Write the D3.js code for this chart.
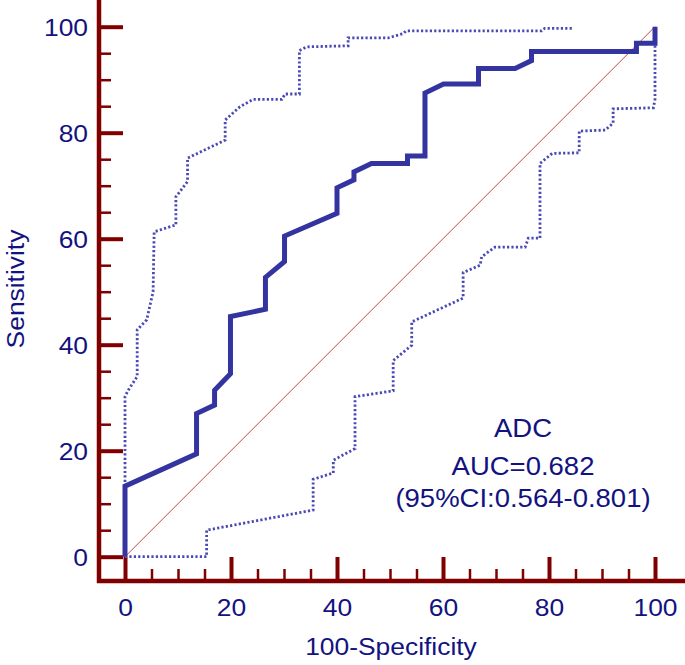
<!DOCTYPE html>
<html lang="en">
<head>
    <meta charset="UTF-8">
    <title>ROC curve: ADC</title>
    <script src="https://d3js.org/d3.v7.min.js"></script>
    <style>
        body { margin: 0; background: #fff; }
        svg text {
            font-family: "Liberation Sans", Arial, sans-serif;
            fill: #121280;
        }
        .axis .domain { display: none; }
        .axis line { stroke: #800000; }
    </style>
</head>
<body>
    <svg width="685" height="665"></svg>

    <script>
        // ROC curve (100-Specificity, Sensitivity)
        const rocX = [0, 0, 13.5, 13.5, 16.9, 16.9, 19.9, 19.9, 26.5, 26.5, 30.1, 30.1, 40.0, 40.0, 43.2, 43.2,
                      46.5, 53.3, 53.3, 56.6, 56.6, 60.1, 66.7, 66.7, 73.6, 76.7, 76.7, 96.5, 96.5, 100, 100];
        const rocY = [0, 13.3, 19.4, 27.0, 28.6, 31.4, 34.5, 45.3, 46.7, 52.7, 55.7, 60.5, 64.8, 69.6, 71.1, 72.6,
                      74.2, 74.2, 75.6, 75.6, 87.5, 89.2, 89.2, 92.1, 92.1, 93.6, 95.3, 95.3, 96.9, 96.9, 100];

        // upper 95% confidence bound
        const upperX = [0, 0, 0.6, 2.3, 2.3, 4.1, 5.3, 5.5, 9.6, 9.6, 11.8, 11.8, 18.9, 18.9, 21.7, 24.2,
                        29.6, 30.2, 32.9, 32.9, 34.3, 42.1, 42.1, 49.7, 52.5, 53.0, 78.6, 79.2, 84.6];
        const upperY = [0, 30.2, 31.4, 34.0, 42.8, 44.7, 50.0, 61.3, 62.6, 67.9, 70.8, 75.2, 78.6, 82.4, 84.9, 86.3,
                        86.3, 87.3, 87.3, 95.5, 96.2, 96.4, 97.9, 97.9, 98.7, 99.2, 99.2, 99.7, 99.7];

        // lower 95% confidence bound
        const lowerX = [0, 15.4, 15.4, 35.5, 35.5, 39.3, 39.3, 43.4, 43.4, 50.6, 50.6, 54.1, 54.1, 63.8, 63.8,
                        67.0, 67.3, 69.8, 75.5, 76.1, 78.3, 78.3, 80.6, 85.7, 85.7, 90.6, 92.1, 92.1, 99.7, 100, 100];
        const lowerY = [0, 0, 5.0, 8.8, 14.6, 15.8, 18.2, 20.4, 30.2, 31.3, 37.0, 39.9, 44.3, 48.8, 53.6,
                        55.0, 56.6, 58.4, 58.4, 60.1, 60.1, 74.2, 76.1, 76.2, 80.3, 80.5, 81.8, 84.5, 84.7, 86.3, 100];

        const majorTicks = [0, 20, 40, 60, 80, 100];
        const minorTicks = d3.range(0, 101, 5).filter(v => v % 20 !== 0);

        const annotation = ["ADC", "AUC=0.682", "(95%CI:0.564-0.801)"];

        const svg = d3.select("svg");

        const x = d3.scaleLinear().domain([0, 100]).range([125, 655]);
        const y = d3.scaleLinear().domain([0, 100]).range([556.7, 26.7]);

        const axisX = 99, axisY = 581;
        const stretch = "scale(1.1,1)";

        // minor ticks
        svg.append("g")
            .attr("class", "axis")
            .attr("transform", "translate(" + axisX + ",0)")
            .call(d3.axisLeft(y).tickValues(minorTicks).tickSize(-12).tickFormat(""))
            .selectAll("line").attr("stroke-width", 2.5);

        svg.append("g")
            .attr("class", "axis")
            .attr("transform", "translate(0," + axisY + ")")
            .call(d3.axisBottom(x).tickValues(minorTicks).tickSize(-12).tickFormat(""))
            .selectAll("line").attr("stroke-width", 2.5);

        // major ticks + labels
        const gy = svg.append("g")
            .attr("class", "axis")
            .attr("transform", "translate(" + axisX + ",0)")
            .call(d3.axisLeft(y).tickValues(majorTicks).tickSize(-24));
        gy.selectAll("line").attr("stroke-width", 4);
        gy.selectAll("text")
            .attr("x", null).attr("dy", null)
            .attr("transform", "translate(-11,8.7) " + stretch)
            .style("font-size", "24px")
            .style("fill", "#121280");

        const gx = svg.append("g")
            .attr("class", "axis")
            .attr("transform", "translate(0," + axisY + ")")
            .call(d3.axisBottom(x).tickValues(majorTicks).tickSize(-24));
        gx.selectAll("line").attr("stroke-width", 4);
        gx.selectAll("text")
            .attr("y", null).attr("dy", null)
            .attr("transform", "translate(0,35) " + stretch)
            .style("font-size", "24px")
            .style("fill", "#121280");

        // axis lines
        svg.append("line")
            .attr("x1", axisX).attr("x2", axisX)
            .attr("y1", 0).attr("y2", axisY + 2)
            .attr("stroke", "#800000").attr("stroke-width", 4.5);
        svg.append("line")
            .attr("x1", axisX - 2).attr("x2", 685)
            .attr("y1", axisY).attr("y2", axisY)
            .attr("stroke", "#800000").attr("stroke-width", 4.5);

        // axis titles
        svg.append("text")
            .attr("transform", "translate(391," + 655 + ") " + stretch)
            .attr("text-anchor", "middle")
            .style("font-size", "24px")
            .text("100-Specificity");

        svg.append("text")
            .attr("transform", "translate(24,289) rotate(-90) " + stretch)
            .attr("text-anchor", "middle")
            .style("font-size", "24px")
            .text("Sensitivity");

        // reference diagonal
        svg.append("line")
            .attr("x1", x(0)).attr("y1", y(0))
            .attr("x2", x(100)).attr("y2", y(100))
            .attr("stroke", "#c04848").attr("stroke-width", 1);

        const line = d3.line().x(d => x(d[0])).y(d => y(d[1]));

        // confidence bounds
        [[upperX, upperY], [lowerX, lowerY]].forEach(([xs, ys]) => {
            svg.append("path")
                .datum(d3.zip(xs, ys))
                .attr("d", line)
                .attr("fill", "none")
                .attr("stroke", "#4a4ab4")
                .attr("stroke-width", 2.8)
                .attr("stroke-dasharray", "2.2,2.2");
        });

        // ROC curve
        svg.append("path")
            .datum(d3.zip(rocX, rocY))
            .attr("d", line)
            .attr("fill", "none")
            .attr("stroke", "#3434a0")
            .attr("stroke-width", 5)
            .attr("stroke-linejoin", "miter");

        // AUC annotation
        const baselines = [437, 475, 507];
        annotation.forEach((t, i) => {
            svg.append("text")
                .attr("transform", "translate(523," + baselines[i] + ") " + stretch)
                .attr("text-anchor", "middle")
                .style("font-size", "25px")
                .text(t);
        });
    </script>
</body>
</html>
